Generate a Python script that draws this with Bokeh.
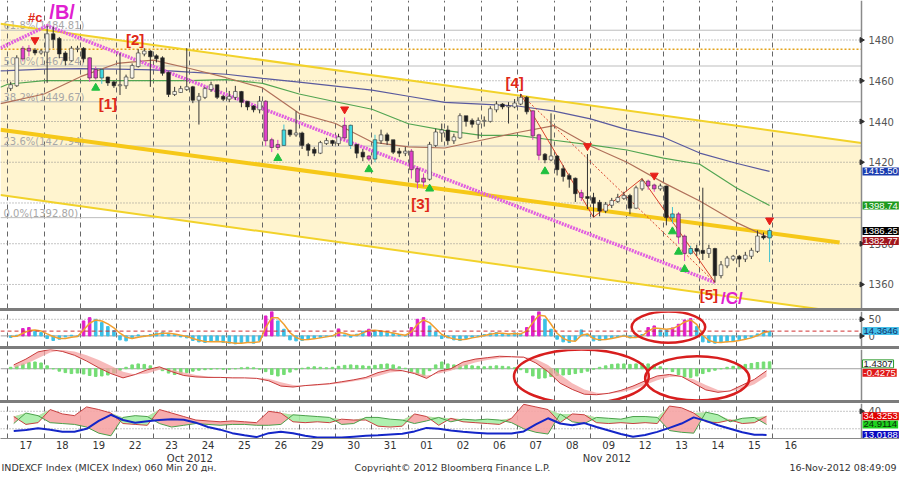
import numpy as np
from bokeh.plotting import figure
from bokeh.models import ColumnDataSource, Range1d, FixedTicker, Div
from bokeh.layouts import column
from bokeh.embed import file_html
from bokeh.resources import INLINE
from bokeh.core.properties import value

# ---------------------------------------------------------------- data
day_labels = ["17", "18", "19", "22", "23", "24", "25", "26", "29", "30", "31",
              "01", "02", "06", "07", "08", "09", "12", "13", "14", "15", "16"]
month_labels = ["Oct 2012", "Nov 2012"]
month_centers = [5.0, 16.45]
bars_per_day = 6

first_open = 1456.5
close = [
    1457.8, 1471.0, 1475.7, 1474.8, 1473.9, 1474.3,
    1482.8, 1480.5, 1473.4, 1470.1, 1475.7, 1475.7,
    1471.0, 1461.6, 1465.3, 1461.6, 1459.2, 1457.8,
    1457.8, 1461.6, 1467.2, 1473.4, 1474.3, 1472.0,
    1471.0, 1463.9, 1453.5, 1454.5, 1455.9, 1456.8,
    1450.7, 1452.1, 1455.9, 1457.8, 1452.1, 1451.2,
    1452.1, 1454.5, 1449.7, 1447.4, 1446.0, 1449.7,
    1430.8, 1427.5, 1428.5, 1435.6, 1433.7, 1434.1,
    1428.5, 1426.1, 1424.7, 1429.4, 1430.4, 1429.4,
    1432.2, 1437.9, 1428.5, 1424.7, 1422.8, 1421.8,
    1430.8, 1433.2, 1430.8, 1425.2, 1424.7, 1425.2,
    1416.6, 1410.5, 1411.9, 1428.5, 1434.6, 1435.6,
    1430.8, 1432.2, 1442.6, 1440.3, 1438.9, 1440.3,
    1440.3, 1446.0, 1448.3, 1447.4, 1447.4, 1448.8,
    1451.6, 1445.0, 1433.2, 1423.7, 1421.4, 1422.8,
    1416.6, 1413.3, 1411.9, 1404.8, 1402.9, 1402.5,
    1400.1, 1396.3, 1399.1, 1401.0, 1402.5, 1403.4,
    1397.7, 1407.2, 1410.5, 1408.6, 1407.2, 1408.1,
    1393.0, 1394.4, 1383.5, 1375.5, 1377.4, 1376.5,
    1375.5, 1377.4, 1364.6, 1369.4, 1372.7, 1373.6,
    1372.7, 1374.1, 1376.5, 1383.5, 1383.1, 1386.25]
high = [
    1459.5, 1472.5, 1477.0, 1477.5, 1476.0, 1475.5,
    1487.0, 1486.5, 1481.5, 1474.5, 1477.0, 1477.2,
    1476.5, 1471.5, 1467.0, 1466.0, 1462.0, 1460.0,
    1473.5, 1463.0, 1468.5, 1475.5, 1476.0, 1475.0,
    1473.0, 1472.0, 1464.5, 1457.0, 1457.5, 1476.0,
    1457.5, 1454.0, 1457.0, 1459.5, 1458.0, 1453.0,
    1455.0, 1457.5, 1455.0, 1450.0, 1448.0, 1452.5,
    1450.5, 1432.0, 1431.0, 1438.5, 1436.0, 1445.0,
    1435.0, 1429.5, 1427.5, 1430.5, 1432.0, 1431.0,
    1434.0, 1442.0, 1438.5, 1429.0, 1426.5, 1423.5,
    1433.5, 1436.0, 1434.5, 1431.0, 1427.0, 1427.5,
    1426.5, 1418.0, 1414.5, 1430.0, 1436.5, 1439.0,
    1438.0, 1434.0, 1444.0, 1442.5, 1441.5, 1442.0,
    1442.5, 1447.5, 1450.0, 1449.0, 1449.5, 1451.0,
    1453.5, 1452.5, 1445.5, 1434.0, 1424.5, 1444.0,
    1423.5, 1418.5, 1414.5, 1412.5, 1406.5, 1424.0,
    1405.0, 1401.5, 1400.5, 1402.5, 1404.5, 1405.5,
    1404.5, 1408.5, 1412.0, 1411.5, 1409.5, 1409.5,
    1408.5, 1398.0, 1395.5, 1384.5, 1379.0, 1379.5,
    1407.5, 1379.5, 1378.0, 1371.5, 1374.0, 1374.5,
    1374.5, 1376.0, 1378.0, 1386.5, 1385.5, 1387.5]
low = [
    1455.0, 1457.0, 1469.5, 1472.0, 1472.5, 1472.8,
    1459.0, 1476.0, 1471.0, 1467.5, 1469.5, 1474.0,
    1469.0, 1459.5, 1460.5, 1458.5, 1457.5, 1456.5,
    1453.0, 1456.0, 1461.0, 1466.5, 1472.0, 1457.0,
    1469.0, 1462.5, 1452.0, 1452.5, 1454.0, 1455.0,
    1449.0, 1438.5, 1451.0, 1454.5, 1451.0, 1450.0,
    1449.5, 1450.5, 1447.0, 1445.5, 1444.5, 1444.0,
    1428.0, 1425.0, 1426.0, 1428.0, 1432.5, 1432.5,
    1426.5, 1423.0, 1423.0, 1424.0, 1428.5, 1428.0,
    1428.0, 1430.5, 1426.5, 1422.0, 1420.5, 1420.5,
    1420.0, 1429.0, 1428.5, 1424.0, 1422.5, 1423.0,
    1412.0, 1407.0, 1408.0, 1411.0, 1427.5, 1430.0,
    1428.5, 1429.0, 1431.5, 1437.5, 1437.0, 1431.5,
    1437.5, 1439.5, 1444.5, 1446.0, 1439.0, 1446.5,
    1448.0, 1443.5, 1431.0, 1421.0, 1419.5, 1420.5,
    1413.5, 1410.5, 1407.5, 1400.5, 1401.0, 1397.0,
    1393.0, 1393.5, 1395.0, 1397.5, 1400.0, 1401.5,
    1394.5, 1397.0, 1406.0, 1406.5, 1405.5, 1406.0,
    1389.0, 1390.0, 1380.0, 1371.5, 1374.5, 1374.0,
    1372.0, 1373.0, 1361.0, 1363.0, 1368.0, 1371.5,
    1368.5, 1371.0, 1372.5, 1375.5, 1382.0, 1371.0]
magenta_bars = [2, 3, 13, 14, 42, 43, 44, 55, 59, 66, 67, 68, 86, 87, 94,
                105, 106, 110, 111]
cyan_bars = [15, 45, 56, 60, 109, 112, 125]
sell_signal_bars = [4, 55, 95, 106, 125]
buy_signal_bars = [14, 44, 59, 69, 88, 109, 110, 111]

fib_names = ["61.8%", "50.0%", "38.2%", "23.6%", "0.0%"]
fib_levels = [1484.81, 1467.24, 1449.67, 1427.94, 1392.80]
resistance_level = 1475.5
price_ticks = [1360, 1380, 1420, 1440, 1460, 1480]
price_grid = [1360, 1380, 1400, 1420, 1440, 1460, 1480]

# moving averages: chart start, each day start (17 Oct .. 15 Nov), last bar
ma_blue = [1464.9, 1465.0, 1465.7, 1466.0, 1465.7, 1465.3, 1464.2, 1463.2,
           1461.2, 1459.3, 1457.4, 1455.4, 1452.4, 1449.4, 1448.5, 1447.6,
           1445.1, 1441.3, 1436.0, 1432.3, 1424.5, 1419.5, 1415.50]
ma_green = [1456.8, 1458.3, 1460.1, 1460.1, 1460.1, 1460.1, 1460.1, 1460.6,
            1458.7, 1453.5, 1449.7, 1446.0, 1438.9, 1435.6, 1433.2, 1433.2,
            1430.8, 1428.5, 1426.0, 1422.0, 1419.0, 1407.5, 1398.74]
ma_brown = [1448.8, 1449.5, 1453.5, 1462.0, 1468.5, 1470.1, 1466.0, 1461.5,
            1456.5, 1444.0, 1439.0, 1429.9, 1427.5, 1427.0, 1430.8, 1434.6,
            1438.0, 1428.0, 1420.0, 1410.0, 1401.0, 1390.5, 1382.77]

# trend channel (value at chart start, value at the price axis)
channel_upper = [1488.0, 1429.4]
channel_lower = [1403.9, 1345.0]
channel_mid = [1435.9, 1380.6]
channel_mid_end_day = 22.84
magenta_trend_start = 1476.1

# Elliott wave labels
wave_text = ["#c", "/B/", "[1]", "[2]", "[3]", "[4]", "[5]", "/C/"]
wave_bar = [6, 6, 16, 21, 67, 84, 116, 116]
wave_at_high = [True, True, False, True, False, True, False, False]
zigzag_bars = [84, 96, 104, 116]

# oscillator (6 per day)
osc_hist = [
    -5, 2, 22, 25, 14, 10,   -8, -14, -10, -3, 2, -2,   45, 55, 50, 40, 28, 16,
    -12, -15, -6, 3, -2, 4,   9, 11, 8, 4, -3, -6,   -14, -18, -20, -17, -15, -20,
    -22, -24, -20, -18, -22, -15,   60, 76, 45, 20, -12, -15,
    -14, -10, -8, -5, -2, 1,   21, 3, -4, 5, 14, 20,   16, 14, 11, 8, 4, 0,
    25, 50, 55, 30, 12, -8,   -6, -12, -14, -8, -4, -2,   4, 8, 10, 7, 5, 9,
    5, 25, 60, 76, 50, 20,   -10, -18, -20, -14, 18, 5,   -15, -14, -10, -6, -3, 2,
    -6, -4, 4, 25, 30, 18,   18, 24, 35, 48, 52, 28,   -18, -20, -22, -20, -18, -16,
    -12, -8, -4, 6, 16, 14.3646]
osc_line = [
    -2, -1, 8, 16, 18, 15,   6, -2, -8, -8, -4, -2,   18, 38, 48, 45, 36, 24,
    8, -4, -8, -4, -1, 1,   5, 8, 8, 6, 2, -2,   -8, -13, -17, -18, -17, -18,
    -20, -22, -22, -20, -20, -18,   25, 55, 55, 35, 10, -5,
    -12, -11, -9, -6, -3, 0,   10, 8, 2, 2, 9, 16,   17, 15, 12, 9, 5, 2,
    12, 35, 48, 40, 22, 4,   -4, -9, -12, -10, -6, -3,   1, 5, 8, 8, 6, 7,
    6, 15, 40, 62, 60, 35,   8, -8, -15, -16, 2, 6,   -8, -12, -11, -8, -4, 0,
    -5, -5, 0, 14, 24, 22,   20, 22, 30, 42, 48, 35,   2, -14, -19, -20, -18, -17,
    -14, -10, -6, 1, 10, 13]
osc_ticks = [0, 50]

# MACD histogram (6 per day)
macd_hist = [
    0.3, 0.6, 1.0, 1.3, 1.4, 1.2,   0.6, 0.0, -0.5, -0.8, -1.0, -0.9,
    -1.1, -1.4, -1.6, -1.5, -1.3, -0.9,   -0.3, 0.3, 0.8, 1.0, 0.9, 0.6,
    0.2, -0.4, -0.9, -1.2, -1.1, -0.8,   -0.5, -0.3, -0.2, -0.1, 0.0, -0.1,
    -0.1, 0.0, 0.2, 0.3, 0.2, -0.1,   -0.6, -1.2, -1.5, -1.2, -0.7, -0.2,
    0.1, 0.3, 0.4, 0.3, 0.2, 0.3,   0.5, 0.7, 0.8, 0.7, 0.6, 0.5,
    0.7, 0.9, 1.0, 0.8, 0.4, 0.1,   -0.6, -1.2, -1.5, -0.4, 0.8, 1.4,
    1.0, 0.8, 0.7, 0.8, 0.6, 0.5,   0.4, 0.5, 0.6, 0.5, 0.4, 0.2,
    -0.2, -0.8, -1.5, -2.0, -1.9, -1.6,   -1.4, -1.3, -1.2, -1.0, -0.8, -0.5,
    -0.1, 0.3, 0.6, 0.9, 1.0, 1.0,   0.9, 1.0, 1.1, 1.0, 0.8, 0.4,
    0.0, -0.6, -1.2, -1.7, -1.8, -1.5,   -1.0, -0.6, -0.3, 0.0, 0.3, 0.5,
    0.7, 0.9, 1.1, 1.3, 1.4, 1.4307]
# MACD line and signal (3 per day)
macd_line = [
    0.8, 2.0, 3.5,   4.0, 3.6, 2.8,   1.6, 0.2, -1.0,   -1.9, -1.2, -0.2,
    0.4, -0.6, -1.4,   -1.7, -1.8, -1.8,   -1.9, -1.9, -2.0,   -2.5, -3.6, -3.8,
    -3.5, -3.3, -3.1,   -2.7, -2.3, -1.8,   -0.8, -0.2, -0.4,   -1.0, -2.0, -0.5,
    0.0, 1.4, 2.0,   2.3, 2.6, 2.5,   2.4, 1.2, -0.6,   -3.0, -4.3, -5.3,
    -5.4, -5.1, -4.5,   -3.6, -2.5, -1.5,   -1.2, -1.6, -3.0,   -4.4, -4.9, -4.6,
    -3.4, -2.2, -0.4275]
macd_signal = [
    0.2, 1.0, 2.2,   3.4, 3.9, 3.6,   2.8, 1.8, 0.6,   -0.6, -1.2, -1.0,
    -0.2, -0.2, -0.8,   -1.3, -1.6, -1.8,   -1.8, -1.9, -1.9,   -2.1, -2.8, -3.4,
    -3.6, -3.5, -3.3,   -3.0, -2.6, -2.2,   -1.5, -0.8, -0.5,   -0.7, -1.4, -1.0,
    -0.4, 0.5, 1.3,   1.8, 2.2, 2.4,   2.5, 2.0, 0.8,   -1.2, -3.0, -4.3,
    -5.0, -5.2, -4.9,   -4.3, -3.4, -2.4,   -1.7, -1.6, -2.2,   -3.4, -4.4, -4.7,
    -4.2, -3.2, -1.6]

# DMI (3 per day)
di_minus = [
    34, 25, 27,   42, 37, 35,   45, 42, 38,   26, 25, 24,   42, 38, 34,
    30, 29, 28,   29, 28, 27,   40, 38, 28,   27, 28, 27,   31, 30, 30,
    23, 22, 23,   37, 34, 24,   32, 28, 27,   26, 25, 32,   48, 45, 42,
    27, 37, 36,   27, 26, 27,   26, 27, 26,   46, 44, 38,   28, 27, 30,
    26, 27, 34.3253]
di_plus = [
    26, 38, 35,   27, 26, 25,   22, 15, 12,   33, 35, 34,   26, 22, 24,
    26, 25, 24,   25, 25, 24,   24, 25, 36,   35, 34, 33,   25, 26, 33,
    33, 31, 30,   26, 29, 33,   28, 31, 30,   31, 30, 27,   20, 16, 14,
    37, 28, 26,   33, 32, 31,   34, 34, 33,   18, 16, 15,   39, 36, 28,
    32, 33, 24.9114]
adx = [
    17.5, 18.5, 20.5,   19, 16.7, 16.7,   20, 29, 36,   30, 27, 28.5,
    30, 31, 30.3,   27, 22, 19,   15, 12.5, 10.5,   15, 16.5, 15,
    12, 10, 10,   10, 11, 12,   12.7, 13.5, 14.3,   17, 21, 20,
    18, 16.5, 15.5,   14.5, 14.5, 14.5,   17, 25, 32,   26, 24, 26.5,
    22, 18, 14,   11, 13, 16.5,   21, 26, 33,   29, 24, 20,
    16, 13.3, 13.0188]
dmi_ticks = [40]
dmi_grid = [20, 40]

# hand-drawn highlight ellipses: panel, first day, last day, low, high
ellipse_panel = ["osc", "macd", "macd"]
ellipse_day_from = [17.13, 13.9, 17.5]
ellipse_day_to = [19.15, 17.6, 20.36]
ellipse_low = [-20.6, -7.2, -6.6]
ellipse_high = [73.5, 4.0, 2.6]

footer_left = "INDEXCF Index (MICEX Index) 060 Min 20 дн."
footer_mid = "Copyright© 2012 Bloomberg Finance L.P."
footer_right = "16-Nov-2012 08:49:09"

# ---------------------------------------------------------------- setup
W = 899
AXIS_PX = 861
X_START, X_AXIS = -0.197, 23.44
X_END = X_AXIS + (W - AXIS_PX) * (X_AXIS - X_START) / AXIS_PX
xr = Range1d(X_START, X_END)
FONT = "DejaVu Sans"
BOXFONT = "Liberation Sans"
n = len(close)
bar_x = np.arange(n) // bars_per_day + (np.arange(n) % bars_per_day + 0.5) / bars_per_day
m = len(macd_line)
ind_x = np.arange(m) // 3 + (np.arange(m) % 3 + 0.5) / 3
ma_x = [X_START] + list(range(21)) + [bar_x[-1]]
opens = [first_open] + close[:-1]
day_bounds = list(range(len(day_labels)))


def base_fig(height, y_range, bottom=0):
    p = figure(width=W, height=height, x_range=xr, y_range=y_range,
               output_backend="svg", toolbar_location=None,
               min_border_left=0, min_border_right=0, min_border_top=0,
               min_border_bottom=bottom)
    p.outline_line_color = None
    p.background_fill_color = "white"
    p.border_fill_color = "white"
    p.yaxis.visible = False
    p.ygrid.visible = False
    p.xgrid.ticker = FixedTicker(ticks=day_bounds)
    p.xgrid.grid_line_color = "#666666"
    p.xgrid.grid_line_dash = "5 4"
    p.xgrid.grid_line_width = 1
    return p


def hgrid(p, levels, color="#8c8c8c", dash="1 2", width=1):
    p.segment(x0=X_START, x1=X_AXIS, y0=levels, y1=levels, line_color=color,
              line_dash=dash, line_width=width)


def price_axis(p, ticks, fmt):
    p.segment(x0=X_AXIS, x1=X_AXIS, y0=p.y_range.start, y1=p.y_range.end,
              line_color="#8a8a8a", line_width=1.5)
    if ticks:
        p.scatter([X_AXIS] * len(ticks), ticks, marker="triangle",
                  angle=-np.pi / 2, size=5, color="#303030")
        p.text(x=[X_AXIS] * len(ticks), y=ticks, text=[fmt.format(t) for t in ticks],
               x_offset=7, text_align="left", text_baseline="middle",
               text_font=value(FONT), text_font_size="10px", text_color="#555555")


def value_box(p, v, text, bg, fg, border=None, dy=0):
    p.text(x=[X_AXIS], y=[v], text=[text], x_offset=1, y_offset=dy,
           text_align="left", text_baseline="middle",
           text_font=value(BOXFONT), text_font_size="9.5px", text_color=fg,
           background_fill_color=bg, border_line_color=border, padding=1)


# ---------------------------------------------------------------- price
p1 = base_fig(308, Range1d(1348.2, 1499.4))
p1.xaxis.visible = False

p1.varea(x=[X_START, X_AXIS], y1=channel_lower, y2=channel_upper,
         fill_color="#fff4cf", level="underlay")
hgrid(p1, price_grid)
hgrid(p1, fib_levels, color="#bdbdbd", dash="solid")
hgrid(p1, [resistance_level], color="#e3a21a", dash="2 2", width=1.5)
p1.text(x=[X_START] * len(fib_levels), y=fib_levels,
        text=[f"{a}({b:.2f})" for a, b in zip(fib_names, fib_levels)],
        x_offset=3, y_offset=1, text_baseline="bottom", text_align="left",
        text_font=value(FONT), text_font_size="10px", text_color="#a8a8a8")

p1.line([X_START, X_AXIS], channel_upper, line_color="#f2d22a", line_width=2)
p1.line([X_START, X_AXIS], channel_lower, line_color="#f2d22a", line_width=2)
p1.line([X_START, channel_mid_end_day], channel_mid, line_color="#f6c818",
        line_width=4)

p1.line(ma_x, ma_blue, line_color="#5a5a9e", line_width=1.2)
p1.line(ma_x, ma_green, line_color="#52a552", line_width=1.2)
p1.line(ma_x, ma_brown, line_color="#b0705a", line_width=1.2)

p1.line([X_START, bar_x[6], bar_x[116]], [magenta_trend_start, high[6], low[116]],
        line_color="#e060e0", line_width=3.5, line_dash="2 1")

zz_y = [high[b] if k % 2 == 0 else low[b] for k, b in enumerate(zigzag_bars)]
p1.line([bar_x[b] for b in zigzag_bars], zz_y, line_color="#d9402c", line_width=1)
p1.line([bar_x[zigzag_bars[0]], bar_x[zigzag_bars[-1]]], [zz_y[0], zz_y[-1]],
        line_color="#d9402c", line_width=1, line_dash="2 2")

body_col, wick_col = [], []
for i in range(n):
    if i in magenta_bars:
        body_col.append("#e040c8"); wick_col.append("#e040c8")
    elif i in cyan_bars:
        body_col.append("#40d8e0"); wick_col.append("#40c0d0")
    elif close[i] >= opens[i]:
        body_col.append("#f6f4ea"); wick_col.append("#333333")
    else:
        body_col.append("#1e1e1e"); wick_col.append("#333333")
src = ColumnDataSource(dict(
    x=bar_x, high=high, low=low,
    top=np.maximum(opens, close) + 0.25, bottom=np.minimum(opens, close) - 0.25,
    body=body_col, wick=wick_col))
p1.segment(x0="x", x1="x", y0="low", y1="high", line_color="wick", source=src)
p1.vbar(x="x", width=0.1, top="top", bottom="bottom", fill_color="body",
        line_color="#333333", line_width=0.6, source=src)

p1.scatter([bar_x[b] for b in sell_signal_bars],
           [high[b] + 4.0 for b in sell_signal_bars], marker="inverted_triangle",
           size=8, color="#e8201a")
p1.scatter([bar_x[b] for b in buy_signal_bars],
           [low[b] - 4.0 for b in buy_signal_bars], marker="triangle",
           size=8, color="#20c040")

wave_src = ColumnDataSource(dict(
    x=[bar_x[b] for b in wave_bar],
    y=[high[b] if h else low[b] for b, h in zip(wave_bar, wave_at_high)],
    text=wave_text,
    dx=[-12, 15, 0, -3, 3, -6, -6, 17],
    dy=[-8, -14, 18, -10, 15, -12, 12, 16],
    color=["#e02818", "#e020d0", "#e02818", "#e02818", "#e02818", "#e02818",
           "#e02818", "#e020d0"],
    size=["13px", "20px", "15px", "15px", "15px", "15px", "15px", "17px"]))
p1.text(x="x", y="y", text="text", x_offset="dx", y_offset="dy",
        text_color="color", text_font_size="size", text_align="center",
        text_baseline="middle", text_font=value("Liberation Sans"),
        text_font_style="bold", source=wave_src)

price_axis(p1, price_ticks, "{:d}")
value_box(p1, ma_blue[-1], f"{ma_blue[-1]:.2f}", "#1a3cb0", "white")
value_box(p1, ma_green[-1], f"{ma_green[-1]:.2f}", "#1e9a1e", "white")
value_box(p1, close[-1], f"{close[-1]:.2f}", "#000000", "white")
value_box(p1, ma_brown[-1], f"{ma_brown[-1]:.2f}", "#a0161e", "white", dy=3)

# ---------------------------------------------------------------- oscillator
p2 = base_fig(35, Range1d(-32, 73.5))
p2.xaxis.visible = False
hgrid(p2, [50])
hgrid(p2, [0], color="#a0a0a0", dash="solid")
osc_col = ["#e020c8" if (v >= 20 and (i == 0 or v > osc_hist[i - 1])) else "#3cc0e6"
           for i, v in enumerate(osc_hist)]
p2.vbar(x=bar_x, width=0.07, top=osc_hist, bottom=0, color=osc_col)
p2.line(bar_x, osc_line, line_color="#f0a030", line_width=1.5)
hgrid(p2, [osc_hist[-1]], color="#d03030", dash="4 3")
price_axis(p2, osc_ticks, "{:d}")
value_box(p2, osc_hist[-1], f"{osc_hist[-1]:.4f}", "#44bfe8", "#10306a")

# ---------------------------------------------------------------- MACD
p3 = base_fig(51, Range1d(-6.6, 4.0))
p3.xaxis.visible = False
hgrid(p3, [0], color="#a0a0a0", dash="solid")
p3.vbar(x=bar_x, width=0.07, top=macd_hist, bottom=0, color="#74dd74")
p3.varea(x=ind_x, y1=macd_line, y2=macd_signal, fill_color="#f4a3a3",
         fill_alpha=0.75)
p3.line(ind_x, macd_line, line_color="#c83a3a", line_width=1)
price_axis(p3, [], "{}")
value_box(p3, macd_hist[-1], f"{macd_hist[-1]:.4f}", "white", "#202020",
          border="#2a9a2a", dy=2)
value_box(p3, macd_line[-1], f"{macd_line[-1]:.4f}", "#e01818", "white", dy=2)

# ---------------------------------------------------------------- DMI
p4 = base_fig(50, Range1d(8.9, 48.9), bottom=15)
hgrid(p4, dmi_grid)
dm = np.array(di_minus, dtype=float)
dp = np.array(di_plus, dtype=float)
top_di = np.maximum(dm, dp)
p4.varea(x=ind_x, y1=dp, y2=top_di, fill_color="#f6a4a4", fill_alpha=0.9)
p4.varea(x=ind_x, y1=dm, y2=top_di, fill_color="#a6eea6", fill_alpha=0.9)
p4.line(ind_x, di_minus, line_color="#c84040", line_width=1)
p4.line(ind_x, di_plus, line_color="#4aa04a", line_width=1)
p4.line(ind_x, adx, line_color="#1426c8", line_width=2)
price_axis(p4, dmi_ticks, "{:d}")
value_box(p4, di_minus[-1], f"{di_minus[-1]:.4f}", "#e00000", "white")
value_box(p4, di_plus[-1], f"{di_plus[-1]:.4f}", "#1ed21e", "#0a2a0a")
value_box(p4, adx[-1], f"{adx[-1]:.4f}", "#0a0ac0", "white")

xa = p4.xaxis[0]
xa.ticker = FixedTicker(ticks=[k + 0.5 for k in day_bounds])
xa.major_label_overrides = {k + 0.5: s for k, s in zip(day_bounds, day_labels)}
xa.axis_line_color = "#8a8a8a"
xa.major_tick_line_color = None
xa.minor_tick_line_color = None
xa.major_tick_out = 0
xa.major_tick_in = 0
xa.minor_tick_out = 0
xa.major_label_text_font = FONT
xa.major_label_text_font_size = "10px"
xa.major_label_text_color = "#333333"
xa.major_label_standoff = 2

# ellipses
panels = {"osc": p2, "macd": p3}
for pn, a, b, lo, hi in zip(ellipse_panel, ellipse_day_from, ellipse_day_to,
                            ellipse_low, ellipse_high):
    panels[pn].ellipse(x=(a + b) / 2, y=(lo + hi) / 2, width=b - a, height=hi - lo,
                       fill_alpha=0, line_color="#d81e1e", line_width=2.5)

# ---------------------------------------------------------------- month row + footer
FOOT_H = 472 - (308 + 3 + 35 + 3 + 51 + 3 + 50)
pf = figure(width=W, height=FOOT_H, x_range=xr, y_range=Range1d(0, FOOT_H),
            output_backend="svg", toolbar_location=None, min_border_left=0,
            min_border_right=0, min_border_top=0, min_border_bottom=0)
pf.axis.visible = False
pf.grid.visible = False
pf.outline_line_color = None
pf.text(x=month_centers, y=[FOOT_H - 5] * len(month_centers), text=month_labels,
        text_align="center", text_baseline="middle", text_font=value(FONT),
        text_font_size="10px", text_color="#333333")
x_mid = X_START + 452 * (X_END - X_START) / W
pf.text(x=[X_START, x_mid, X_END], y=[5, 5, 5],
        text=[footer_left, footer_mid, footer_right],
        x_offset=[1, 0, -3], text_align=["left", "center", "right"],
        text_baseline="middle", text_font=value(FONT), text_font_size="9.5px",
        text_color="#333333")


def sep():
    return Div(width=W, height=3, margin=0,
               styles={"background-color": "#7c7c7c"})


layout = column(p1, sep(), p2, sep(), p3, sep(), p4, pf, spacing=0)
open("out.html", "w").write(file_html(layout, INLINE))
